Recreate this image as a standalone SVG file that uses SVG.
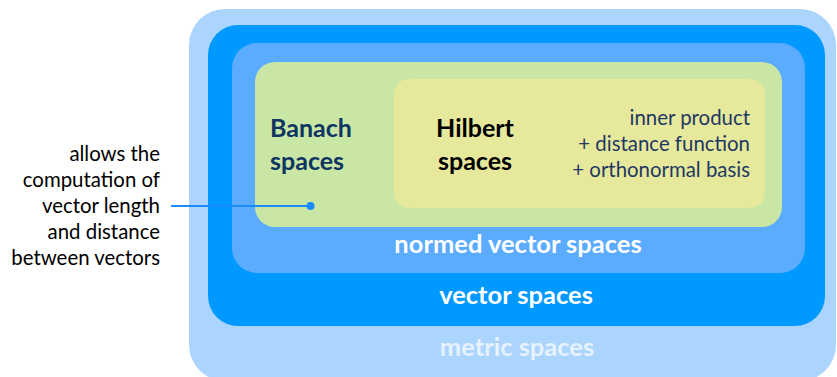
<svg xmlns="http://www.w3.org/2000/svg" width="837" height="377" viewBox="0 0 837 377">
<style>
text{font-family:Lato,"Open Sans","Liberation Sans",sans-serif}
.b{font-weight:bold;font-size:25px}
.lbl{font-size:25.5px;font-weight:bold;text-anchor:middle}
.note{font-size:20.4px;text-anchor:end}
</style>
<rect width="837" height="377" fill="#fff"/>
<g id="metric"><rect x="189" y="9" width="647" height="372" rx="36" fill="#ACD5FD"/>
<text class="lbl" x="517" y="356" fill="#E6F2FE">metric spaces</text></g>
<g id="vector"><rect x="208" y="25" width="617" height="301" rx="30" fill="#0099FF"/>
<text class="lbl" x="516" y="304" fill="#fff">vector spaces</text></g>
<g id="normed"><rect x="232" y="43" width="573" height="230" rx="25" fill="#5BABFF"/>
<text class="lbl" x="518" y="253" fill="#fff">normed vector spaces</text></g>
<g id="banach"><rect x="255" y="62" width="527" height="165" rx="20" fill="#C9E6A4"/>
<text class="b" x="270" y="137" fill="#0D3463">Banach</text>
<text class="b" x="270" y="170" fill="#0D3463">spaces</text></g>
<g id="hilbert"><rect x="394" y="79" width="371" height="129" rx="15" fill="#E6E89B"/>
<text class="b" x="475" y="137" fill="#000" text-anchor="middle">Hilbert</text>
<text class="b" x="475" y="170" fill="#000" text-anchor="middle">spaces</text>
<text class="note" x="750" y="125" fill="#1F3864">inner product</text>
<text class="note" x="750" y="151" fill="#1F3864">+ distance function</text>
<text class="note" x="750" y="177" fill="#1F3864">+ orthonormal basis</text></g>
<g id="annotation">
<text class="note" x="160" y="161" fill="#000">allows the</text>
<text class="note" x="160" y="187" fill="#000">computation of</text>
<text class="note" x="160" y="213" fill="#000">vector length</text>
<text class="note" x="160" y="239" fill="#000">and distance</text>
<text class="note" x="160" y="265" fill="#000">between vectors</text></g>
<g id="connectors">
<line x1="171" y1="206" x2="310" y2="206" stroke="#1A8CFF" stroke-width="2"/>
<circle cx="310.5" cy="206" r="4" fill="#1A8CFF"/></g>
</svg>
